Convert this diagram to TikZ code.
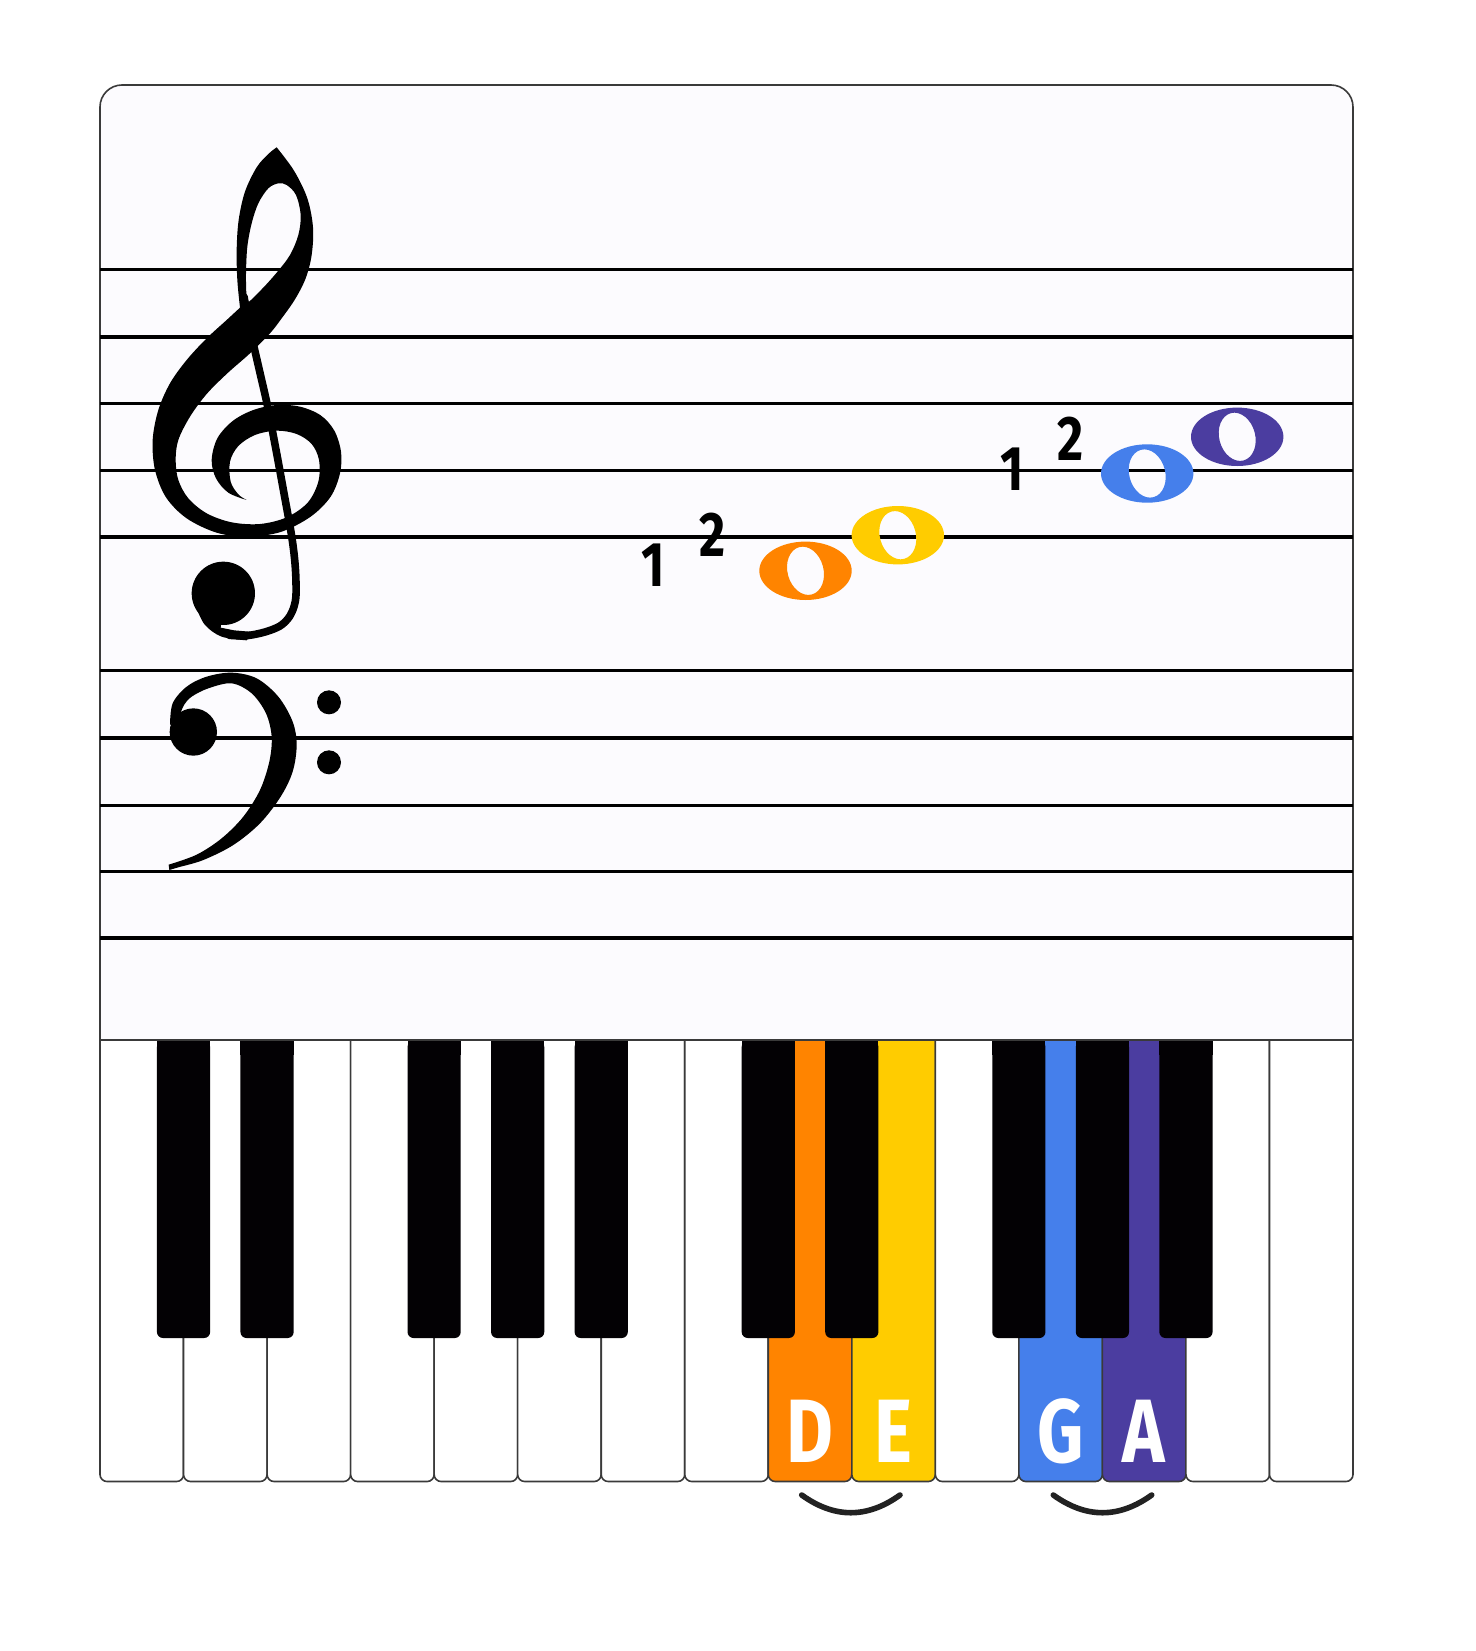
\documentclass[tikz,border=0pt]{standalone}
\usepackage{fontspec}
\setmainfont{Fira Sans}
\usepackage{graphicx}
\definecolor{panelbg}{HTML}{FCFBFE}
\definecolor{keyline}{HTML}{3A3A3A}
\definecolor{blackkey}{HTML}{030104}
\definecolor{cD}{HTML}{FF8400}
\definecolor{cE}{HTML}{FFCC00}
\definecolor{cG}{HTML}{457FEB}
\definecolor{cA}{HTML}{4B3DA0}
\definecolor{slurc}{HTML}{222222}
\tikzset{
  staffline/.style={line width=3.4pt, black},
  whitekey/.style={draw=keyline, line width=1.6pt, rounded corners=7pt},
  keyletter/.style={text=white, font=\fontsize{90}{90}\selectfont\bfseries, anchor=base, inner sep=0pt},
  fingering/.style={text=black, font=\fontsize{63}{63}\selectfont\bfseries, anchor=base, inner sep=0pt},
  slur/.style={line width=5.6pt, draw=slurc, line cap=round},
}
\newcommand{\wnote}[4]{%
  \coordinate (#1) at (#2,#3);
  \fill[#4, even odd rule] (#1) ellipse [x radius=46.2, y radius=29.2]
     (#1) ellipse [x radius=18, y radius=24.5, rotate=15];}
\begin{document}
\begin{tikzpicture}[x=1pt, y=-1pt, line join=round]
\useasboundingbox (0,0) rectangle (1475,1651);
\fill[white] (0,0) rectangle (1475,1651);

% panel
\draw[draw=keyline, line width=1.6pt, fill=panelbg, rounded corners=22pt]
  (100,1040) -- (100,85) -- (1353,85) -- (1353,1040);

% staff lines
\foreach \yy in {269.5,337,403.5,470.6,537,670.6,738,805.4,871.7,938}
  \draw[staffline] (100,\yy) -- (1353,\yy);

% treble clef
\begin{scope}[shift={(140,140)}, scale=0.333333]
\fill[even odd rule]
  (410,22) -- plot[smooth, tension=0.55] coordinates {(410,22) (462,92) (502,175) (519,262) (515,345) (497,415) (465,478) (425,535) (390,580) (330,640) (262,700) (200,762) (150,830) (115,900) (107,960) (115,1020) (145,1075) (200,1120) (275,1147) (360,1152) (440,1132) (503,1088) (535,1025) (537,960) (515,912) (470,882) (410,872) (345,885) (295,918) (270,965) (272,1025) (295,1063) (320,1080)}
  -- plot[smooth, tension=0.55] coordinates {(320,1080) (265,1058) (228,1015) (215,960) (232,895) (278,843) (340,810) (410,795) (480,800) (542,826) (583,872) (603,935) (600,1000) (572,1070) (512,1130) (422,1176) (322,1190) (230,1178) (140,1135) (78,1072) (45,990) (38,900) (55,810) (90,730) (140,660) (200,595) (260,540) (300,503)}
  -- plot[smooth, tension=0.55] coordinates {(300,503) (292,420) (290,330) (296,240) (315,155) (350,82) (385,42) (410,22)}
  -- cycle
  plot[smooth cycle, tension=0.55] coordinates {(322,488) (365,448) (410,398) (450,345) (475,285) (482,225) (468,165) (440,135) (415,130) (385,145) (355,190) (335,250) (322,320) (318,400) (319,460)};
\draw[line width=7.6pt, line cap=round] plot[smooth, tension=0.55] coordinates {(312,470) (333,580) (358,690) (383,800) (410,940) (432,1060) (452,1170) (462,1240) (467,1300) (468,1365) (462,1400) (447,1432) (420,1458) (375,1476) (320,1487) (268,1486)};
\fill (250,1360) circle [radius=95];
\fill plot[smooth, tension=0.55] coordinates {(170,1405) (195,1455) (245,1490) (320,1501)} -- (340,1476) -- (282,1471) -- (242,1463) -- (250,1400) -- cycle;
\end{scope}

% bass clef
\begin{scope}[shift={(90,650)}, scale=0.333333]
\fill (240,225) -- plot[smooth, tension=0.55] coordinates {(240,225) (248,160) (290,110) (350,80) (425,68) (500,85) (565,140) (608,215) (620,285) (608,365) (572,440) (510,520) (430,585) (340,630) (265,652) (238,660)}
  -- (236,644) -- plot[smooth, tension=0.55] coordinates {(236,644) (320,614) (395,565) (460,500) (510,420) (538,335) (545,260) (528,190) (485,130) (425,100) (355,115) (305,140) (282,165) (270,195)} -- cycle;
\fill (310,246) circle [radius=71];
\fill (717,157) circle [radius=36];
\fill (717,337) circle [radius=36];
\end{scope}

% notes
\wnote{nD}{805.5}{570.8}{cD}
\wnote{nE}{897.8}{535.2}{cE}
\wnote{nG}{1147.2}{473.5}{cG}
\wnote{nA}{1237.2}{436.8}{cA}

% fingerings
\node[fingering] (f1a) at (653.3,586.7) {\scalebox{0.8}[1]{1}};
\node[fingering] (f2a) at (712.3,556.7) {\scalebox{0.8}[1]{2}};
\node[fingering] (f1b) at (1011.7,490) {\scalebox{0.8}[1]{1}};
\node[fingering] (f2b) at (1070.3,460) {\scalebox{0.8}[1]{2}};

% white keys
\foreach \i/\col in {0/white,1/white,2/white,3/white,4/white,5/white,6/white,7/white,8/cD,9/cE,10/white,11/cG,12/cA,13/white,14/white} {
  \pgfmathsetmacro\xa{100+\i*83.5333}
  \pgfmathsetmacro\xb{100+(\i+1)*83.5333}
  \draw[whitekey, fill=\col] (\xa,1040) -- (\xa,1481.5) -- (\xb,1481.5) -- (\xb,1040);
}
\draw[draw=keyline, line width=1.6pt] (100,1040) -- (1353,1040);

% black keys
\foreach \j in {1,2,4,5,6,8,9,11,12,13} {
  \pgfmathsetmacro\xa{100+\j*83.5333-26.6}
  \pgfmathsetmacro\xb{100+\j*83.5333+26.6}
  \fill[blackkey, rounded corners=6pt] (\xa,1041) rectangle (\xb,1338);
  \fill[blackkey] (\xa,1041) rectangle (\xb,1055);
}

% key letters
\node[keyletter] (lD) at (810.0,1462) {\scalebox{0.8}[1]{D}};
\node[keyletter] (lE) at (893.6,1462) {\scalebox{0.8}[1]{E}};
\node[keyletter] (lG) at (1060.6,1462) {\scalebox{0.8}[1]{G}};
\node[keyletter] (lA) at (1144.2,1462) {\scalebox{0.8}[1]{A}};

% slurs
\coordinate (s1a) at (801.7,1495);
\coordinate (s1b) at (900,1495);
\coordinate (s2a) at (1053.3,1495);
\coordinate (s2b) at (1151.7,1495);
\draw[slur] (s1a) .. controls (834.5,1518.6) and (867.2,1518.6) .. (s1b);
\draw[slur] (s2a) .. controls (1086.1,1518.6) and (1118.9,1518.6) .. (s2b);
\end{tikzpicture}
\end{document}
